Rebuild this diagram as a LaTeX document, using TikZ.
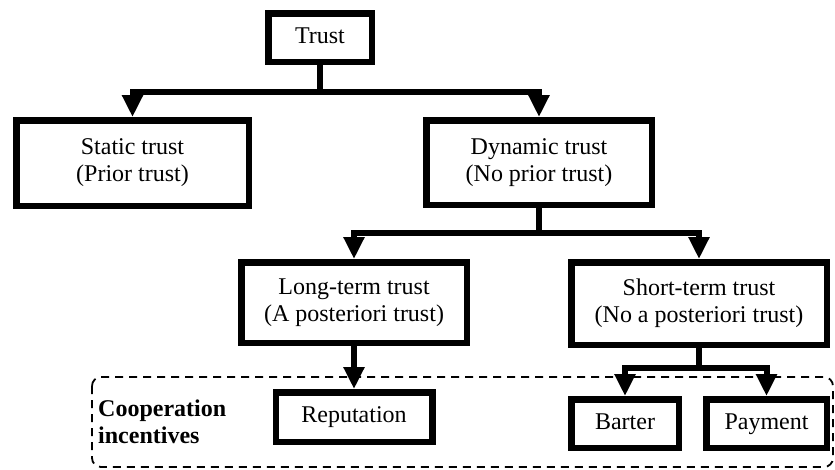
\documentclass[tikz,border=0pt]{standalone}
\usepackage{fontspec}
\setmainfont{Liberation Serif}
\usepackage{tikz}
\usetikzlibrary{arrows.meta}
\tikzset{tree box/.style={
        draw, line width=6.5pt, fill=white, minimum width=#1,
        align=center, inner sep=2pt,
        font=\fontsize{24}{27}\selectfont,
    },
    one line/.style={
        text height=16pt, text depth=5pt,
    },
    tree arrow/.style={
        line width=6pt, -{Triangle[width=20pt,length=22pt]},
    },
    incentive frame/.style={
        draw, line width=1.8pt, dash pattern=on 8pt off 6pt,
        rounded corners=9pt,
    },
    incentive label/.style={
         font=\fontsize{24}{27}\selectfont\bfseries, align=left,
         inner sep=0pt, anchor=west,
    },
}
\begin{document}
\begin{tikzpicture}[x=1pt,y=1pt]
        \useasboundingbox (0,0) rectangle (835,-469);
    %% the dashed area goes first, the arrows cross it
        \draw [incentive frame] (92,-377) rectangle (833,-467);
        \node [incentive label] at (98,-422) (coop) {Cooperation\\incentives};

    %% the boxes of the tree
        \node [tree box=103.5pt, minimum height=48.5pt, one line] at (320,-37.5) (trust) {Trust};
        \node [tree box=232.5pt, minimum height=85.5pt] at (132.5,-163) (static) {Static trust\\(Prior trust)};
        \node [tree box=225.5pt, minimum height=84.5pt] at (539,-162.5) (dynamic) {Dynamic trust\\(No prior trust)};
        \node [tree box=225.5pt, minimum height=80.5pt] at (354,-302.5) (longterm) {Long-term trust\\(A posteriori trust)};
        \node [tree box=255.5pt, minimum height=82.5pt] at (699,-303.5) (shortterm) {Short-term trust\\(No a posteriori trust)};
        \node [tree box=156.5pt, minimum height=49.5pt, one line] at (354,-417) (reputation) {Reputation};
        \node [tree box=107.5pt, minimum height=48.5pt, one line] at (625,-423.5) (barter) {Barter};
        \node [tree box=120.5pt, minimum height=48.5pt, one line] at (766.5,-423.5) (payment) {Payment};

    %% the arrows, each one from the parent box
        \draw [tree arrow] (trust.south) -- ++(0,-27) -| (static.north);
        \draw [tree arrow] (trust.south) -- ++(0,-27) -| (dynamic.north);
        \draw [tree arrow] (dynamic.south) -- ++(0,-25) -| (longterm.north);
        \draw [tree arrow] (dynamic.south) -- ++(0,-25) -| (shortterm.north);
        \draw [tree arrow] (longterm.south) -- (reputation.north);
        \draw [tree arrow] (shortterm.south) -- ++(0,-20) -| (barter.north);
        \draw [tree arrow] (shortterm.south) -- ++(0,-20) -| (payment.north);
    \end{tikzpicture}
\end{document}
